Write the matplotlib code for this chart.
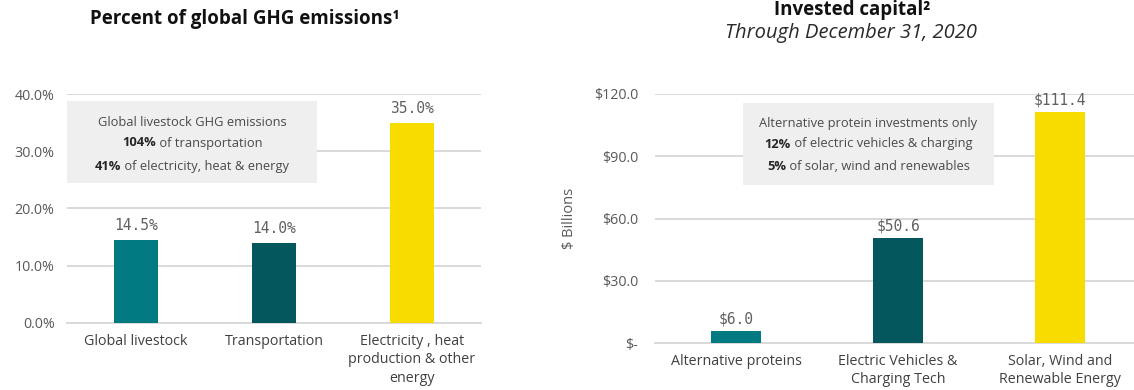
import matplotlib
matplotlib.use("Agg")
import matplotlib.pyplot as plt
from matplotlib.patches import Rectangle

# ---- data ----
ghg_categories = ["Global livestock", "Transportation", "Electricity , heat\nproduction & other\nenergy"]
ghg_values = [14.5, 14.0, 35.0]
ghg_ticks = [0, 10, 20, 30, 40]

cap_categories = ["Alternative proteins", "Electric Vehicles &\nCharging Tech", "Solar, Wind and\nRenewable Energy"]
cap_values = [6.0, 50.6, 111.4]
cap_ticks = [0, 30, 60, 90, 120]

bar_colors = ["#027A82", "#03575D", "#F8DC00"]
grid_color = "#D9D9D9"
text_color = "#595959"

W, H = 1134, 390
plt.rcParams["font.family"] = ["Open Sans", "DejaVu Sans"]
fig = plt.figure(figsize=(W / 100, H / 100), dpi=100)


def px_axes(x0, y_top, x1, y_bottom):
    return fig.add_axes([x0 / W, 1 - y_bottom / H, (x1 - x0) / W, (y_bottom - y_top) / H])


def style(ax, ymax, ticks, labels, cats, ypad):
    ax.set_xlim(-0.5, 2.5)
    ax.set_ylim(0, ymax)
    ax.set_yticks(ticks)
    ax.set_yticklabels(labels, color=text_color, fontsize=10.3)
    ax.set_xticks(range(len(cats)))
    ax.set_xticklabels(cats, color="#404040", fontsize=10.3, linespacing=1.3)
    ax.tick_params(length=0)
    ax.tick_params(axis="y", pad=ypad)
    ax.tick_params(axis="x", pad=8)
    for s in ["top", "right", "left"]:
        ax.spines[s].set_visible(False)
    ax.spines["bottom"].set_color(grid_color)
    ax.spines["bottom"].set_linewidth(1.4)
    ax.grid(axis="y", color=grid_color, linewidth=1.4)
    ax.set_axisbelow(True)


def value_labels(ax, values, fmt, offset_px):
    for i, v in enumerate(values):
        ax.annotate(fmt(v), (i, v), xytext=(0, offset_px * 0.72), textcoords="offset points",
                    ha="center", va="center", color="#606060", fontsize=10.5,
                    family="DejaVu Sans Mono")


# ---- left chart: share of emissions ----
ax1 = px_axes(67, 94, 481, 323)
ax1.bar(range(3), ghg_values, width=0.32, color=bar_colors, zorder=3)
style(ax1, 40, ghg_ticks, [f"{t:.1f}%" for t in ghg_ticks], ghg_categories, ypad=9)
value_labels(ax1, ghg_values, lambda v: f"{v:.1f}%", 14)

# ---- right chart: invested capital ----
ax2 = px_axes(655, 94, 1141, 343)
ax2.bar(range(3), cap_values, width=0.31, color=bar_colors, zorder=3)
style(ax2, 120, cap_ticks, ["$-"] + [f"${t:.1f}" for t in cap_ticks[1:]], cap_categories, ypad=12)
value_labels(ax2, cap_values, lambda v: f"${v:.1f}", 12)
ax2.set_ylabel("$ Billions", color=text_color, fontsize=10.5)
ax2.yaxis.set_label_coords((577 - 655) / (1141 - 655), 0.5)

# ---- titles ----
fig.text(245 / W, 1 - 19 / H, "Percent of global GHG emissions\u00b9", ha="center", va="center",
         fontsize=13.5, fontweight="bold", color="#111111")
fig.text(852 / W, 1 - 10 / H, "Invested capital\u00b2", ha="center", va="center",
         fontsize=13.5, fontweight="bold", color="#111111")
fig.text(851 / W, 1 - 33 / H, "Through December 31, 2020", ha="center", va="center",
         fontsize=14.5, style="italic", color="#2a2a2a")

# ---- callout boxes ----
renderer = fig.canvas.get_renderer()
BOX_FS = 9.3


def mixed_line(cx, cy, bold, rest):
    tb = fig.text(0, 1 - cy / H, bold, fontsize=BOX_FS, fontweight="bold", color="#262626",
                  va="center", zorder=6)
    tr = fig.text(0, 1 - cy / H, rest, fontsize=BOX_FS, color="#4a4a4a", va="center", zorder=6)
    wb = tb.get_window_extent(renderer).width
    wr = tr.get_window_extent(renderer).width
    x0 = cx - (wb + wr) / 2
    tb.set_x(x0 / W)
    tr.set_x((x0 + wb) / W)


def callout(x0, y0, x1, y1, head, lines, ys):
    fig.patches.append(Rectangle((x0 / W, 1 - y1 / H), (x1 - x0) / W, (y1 - y0) / H,
                                 transform=fig.transFigure, facecolor="#EFEFEF",
                                 edgecolor="none", zorder=5))
    cx = (x0 + x1) / 2
    fig.text(cx / W, 1 - ys[0] / H, head, ha="center", va="center", fontsize=BOX_FS,
             color="#4a4a4a", zorder=6)
    for (b, r), y in zip(lines, ys[1:]):
        mixed_line(cx, y, b, r)


callout(67, 101, 317, 183, "Global livestock GHG emissions",
        [("104%", " of transportation"), ("41%", " of electricity, heat & energy")],
        [122, 143, 166])
callout(743, 103, 994, 185, "Alternative protein investments only",
        [("12%", " of electric vehicles & charging"), ("5%", " of solar, wind and renewables")],
        [123, 144, 167])

fig.savefig("out.png", dpi=100)
